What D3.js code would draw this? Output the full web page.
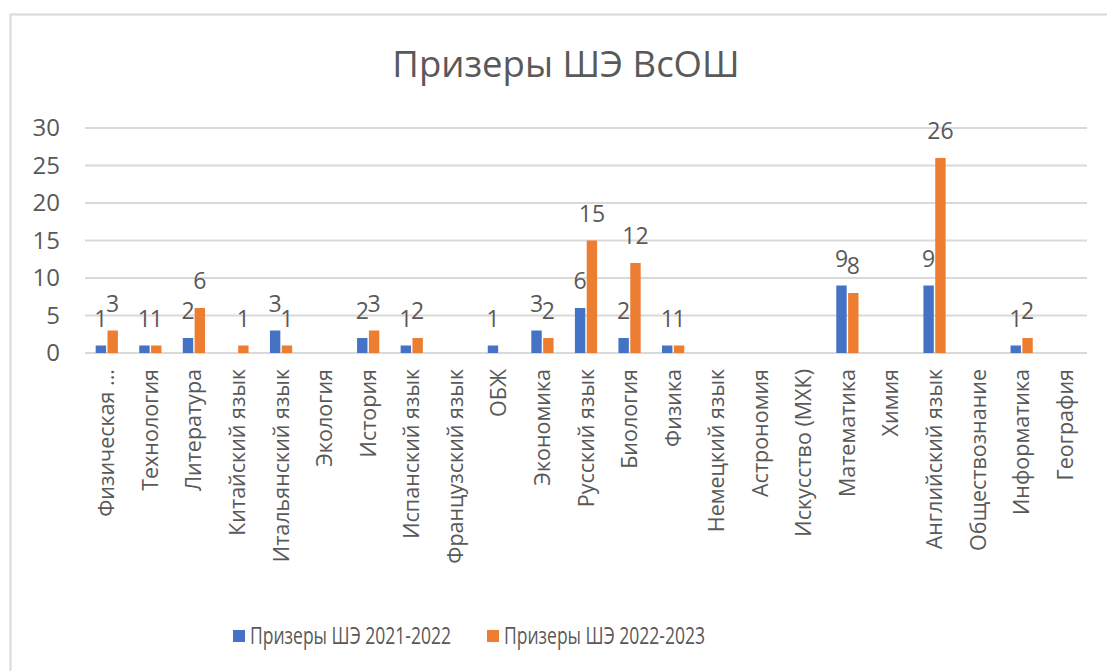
<!DOCTYPE html>
<html>
<head>
<meta charset="utf-8">
<script src="https://cdn.jsdelivr.net/npm/d3@7"></script>
<style>
  body { margin: 0; background: #fff; }
  text { font-family: "Open Sans", sans-serif; fill: #595959; }
</style>
</head>
<body>
<script>
// categories and series
var subjects = ["Физическая культура", "Технология", "Литература", "Китайский язык", "Итальянский язык",
  "Экология", "История", "Испанский язык", "Французский язык", "ОБЖ", "Экономика", "Русский язык",
  "Биология", "Физика", "Немецкий язык", "Астрономия", "Искусство (МХК)", "Математика", "Химия",
  "Английский язык", "Обществознание", "Информатика", "География"];
var prize2122 = [1, 1, 2, null, 3, null, 2, 1, null, 1, 3, 6, 2, 1, null, null, null, 9, null, 9, null, 1, null];
var prize2223 = [3, 1, 6, 1, 1, null, 3, 2, null, null, 2, 15, 12, 1, null, null, null, 8, null, 26, null, 2, null];
var seriesNames = ["Призеры ШЭ 2021-2022", "Призеры ШЭ 2022-2023"];
var yTicks = [0, 5, 10, 15, 20, 25, 30];
var colors = ["#4472C4", "#ED7D31"];

var W = 1107, H = 671;
var margin = {top: 128, right: 20, bottom: 318, left: 85},
    width = 1087 - margin.left,
    height = 353 - margin.top;

var svg = d3.select("body").append("svg").attr("width", W).attr("height", H);

// frame
svg.append("rect").attr("x", 10.5).attr("y", 14.5).attr("width", W).attr("height", H)
  .attr("fill", "none").attr("stroke", "#d9d9d9").attr("stroke-width", 2);

// title
svg.append("text").attr("x", 566).attr("y", 77).attr("text-anchor", "middle")
  .style("font-size", "36.5px").text("Призеры ШЭ ВсОШ");

var g = svg.append("g").attr("transform", "translate(" + margin.left + "," + margin.top + ")");

var x = d3.scaleBand().domain(subjects).range([0, width]).paddingInner(0.49).paddingOuter(0.245);
var x1 = d3.scaleBand().domain([0, 1]).range([0, x.bandwidth()]).paddingInner(0.12);
var y = d3.scaleLinear().domain([0, 30]).range([height, 0]);

// gridlines
g.selectAll(".grid").data(yTicks).enter().append("line")
  .attr("x1", 0).attr("x2", width)
  .attr("y1", function (d) { return y(d); }).attr("y2", function (d) { return y(d); })
  .attr("stroke", "#d9d9d9").attr("stroke-width", 2);

// y axis labels
var yAxis = g.append("g").call(d3.axisLeft(y).tickValues(yTicks).tickSize(0).tickPadding(25));
yAxis.select(".domain").remove();
yAxis.selectAll("text").style("font-size", "24px").style("font-family", "Open Sans").attr("fill", "#595959");

// x axis labels
var xAxis = g.append("g").attr("transform", "translate(0," + height + ")")
  .call(d3.axisBottom(x).tickSize(0).tickFormat(function (d) {
    return d == "Физическая культура" ? "Физическая ..." : d;
  }));
xAxis.select(".domain").remove();
xAxis.selectAll("text").style("font-size", "21.5px").style("font-family", "Open Sans").attr("fill", "#595959")
  .attr("text-anchor", "end").attr("transform", "rotate(-90)")
  .attr("x", -16).attr("y", 0).attr("dy", "0.35em");

var seriesData = [prize2122, prize2223];
seriesData.forEach(function (vals, si) {
  var pts = subjects.map(function (s, i) { return {s: s, v: vals[i]}; })
    .filter(function (d) { return d.v != null; });
  g.selectAll(".bar" + si).data(pts).enter().append("rect")
    .attr("x", function (d) { return x(d.s) + x1(si); })
    .attr("width", x1.bandwidth())
    .attr("y", function (d) { return y(d.v); })
    .attr("height", function (d) { return height - y(d.v); })
    .attr("fill", colors[si]);
  g.selectAll(".lab" + si).data(pts).enter().append("text")
    .attr("x", function (d) { return x(d.s) + x1(si) + x1.bandwidth() / 2; })
    .attr("y", function (d) { return y(d.v) - 19; })
    .attr("text-anchor", "middle")
    .style("font-size", "23px")
    .text(function (d) { return d.v; });
});

// legend
var legend = svg.append("g");
var legX = [233, 487];
seriesNames.forEach(function (n, i) {
  legend.append("rect").attr("x", legX[i]).attr("y", 630).attr("width", 12).attr("height", 12).attr("fill", colors[i]);
  legend.append("text").attr("x", legX[i] + 17).attr("y", 644).style("font-size", "23.5px")
    .attr("textLength", 201).attr("lengthAdjust", "spacingAndGlyphs").text(n);
});
</script>
</body>
</html>
